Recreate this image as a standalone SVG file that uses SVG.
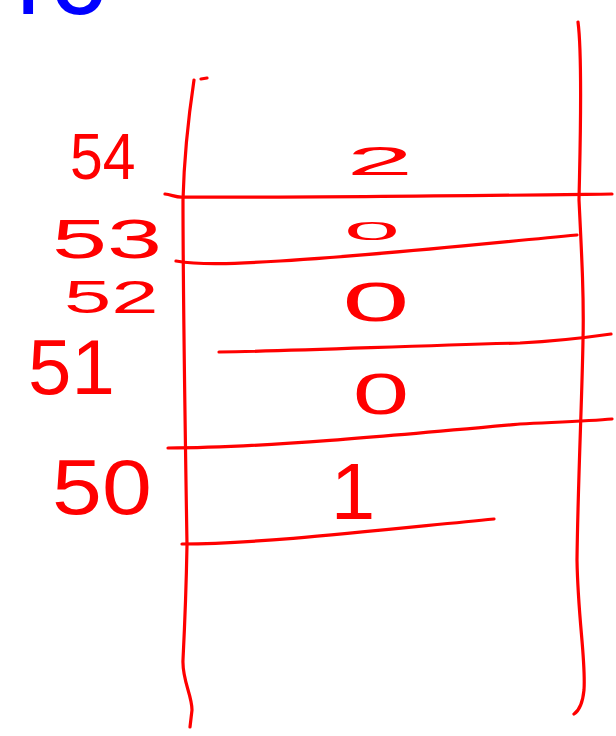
<svg xmlns="http://www.w3.org/2000/svg" width="616" height="736" viewBox="0 0 616 736">
<style>
.ln{fill:none;stroke:#ff0000;stroke-width:3.2;stroke-linecap:round;stroke-linejoin:round}
.lab{font-family:"Liberation Sans",Arial,sans-serif;fill:#ff0000}
.hdr{font-family:"Liberation Sans",Arial,sans-serif;fill:#0000ff;font-size:110px}
</style>
<rect width="616" height="736" fill="#ffffff"/>
<g id="header">
<text class="hdr" x="16" y="14">i</text>
<text class="hdr" x="50" y="14">c</text>
</g>
<g id="connectors">
<path class="ln" d="M194,80 C188,120 184,160 183,200 C183,300 185,420 187,545 C186,600 184,640 183,660 C182,680 192,695 192,710 L190,727"/>
<path class="ln" d="M201,79 L207,78"/>
<path class="ln" d="M578,22 C583,60 580,150 579,200 C582,260 584,300 583,340 C582,400 578,480 577,560 C578,620 586,660 584,690 C583,700 580,710 574,714"/>
<path class="ln" d="M165,194 C172,195 178,198 183,197 C300,198 450,196 612,194"/>
<path class="ln" d="M176,261 C200,265 230,264 280,261 C380,255 470,245 577,235"/>
<path class="ln" d="M219,352 C300,351 400,346 520,343 C560,341 590,337 611,334"/>
<path class="ln" d="M168,448 C260,448 400,435 520,424 C560,422 590,421 612,419"/>
<path class="ln" d="M182,544 C260,544 380,530 494,519"/>
</g>
<g id="cell-54"><text class="lab" x="380" y="175" font-size="40" text-anchor="middle" transform="translate(380,0) scale(3,1) translate(-380,0)">2</text></g>
<g id="cell-53"><text class="lab" x="372" y="240" font-size="25" text-anchor="middle" transform="translate(372,0) scale(4,1) translate(-372,0)">0</text></g>
<g id="cell-52"><text class="lab" x="376" y="321" font-size="55" text-anchor="middle" transform="translate(376,0) scale(2.2,1) translate(-376,0)">0</text></g>
<g id="cell-51"><text class="lab" x="381" y="414" font-size="58" text-anchor="middle" transform="translate(381,0) scale(1.75,1) translate(-381,0)">0</text></g>
<g id="cell-50"><text class="lab" x="353" y="519" font-size="80" text-anchor="middle">1</text></g>
<g id="label-54"><text class="lab" x="70" y="179" font-size="64" transform="translate(70,0) scale(0.92,1) translate(-70,0)">54</text></g>
<g id="label-53"><text class="lab" x="52" y="258" font-size="55" transform="translate(52,0) scale(1.8,1) translate(-52,0)">53</text></g>
<g id="label-52"><text class="lab" x="64" y="313" font-size="46" transform="translate(64,0) scale(1.85,1) translate(-64,0)">52</text></g>
<g id="label-51"><text class="lab" x="28" y="394" font-size="78">51</text></g>
<g id="label-50"><text class="lab" x="52" y="514" font-size="78" transform="translate(52,0) scale(1.15,1) translate(-52,0)">50</text></g>
</svg>
